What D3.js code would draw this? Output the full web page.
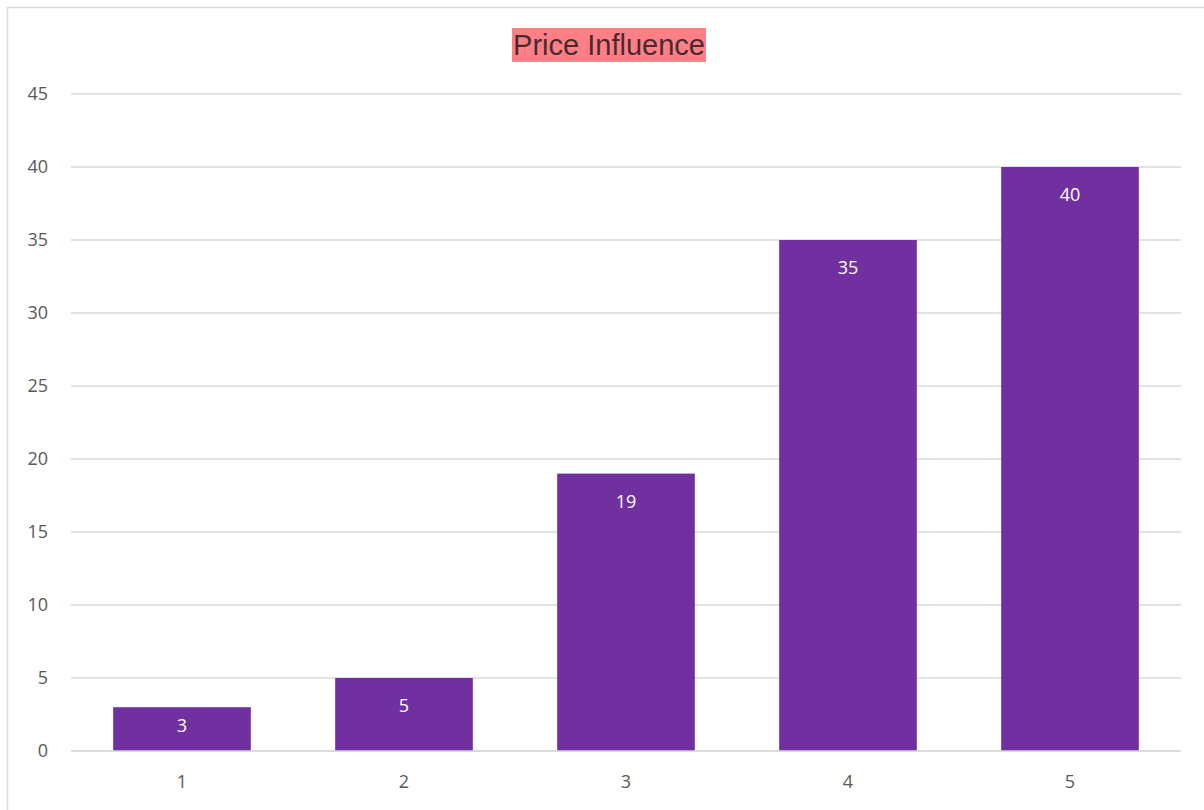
<!DOCTYPE html>
<html><head><meta charset="utf-8">
<script src="https://cdn.jsdelivr.net/npm/d3@7"></script>
<style>body{margin:0;background:#fff}svg{display:block}</style>
</head><body>
<script>
const categories = ["1","2","3","4","5"];
const values = [3,5,19,35,40];
const yTicks = [0,5,10,15,20,25,30,35,40,45];
const title = "Price Influence";

const W=1204,H=810;
const svg=d3.select("body").append("svg").attr("width",W).attr("height",H);
svg.append("rect").attr("x",7.5).attr("y",7.5).attr("width",W).attr("height",H).attr("fill","#fff").attr("stroke","#d9d9d9").attr("stroke-width",1.5);

const x=d3.scaleBand().domain(categories).range([71,1181]).paddingInner(0.38).paddingOuter(0.19);
const y=d3.scaleLinear().domain([0,45]).range([751,94]);

const g=svg.append("g");
g.selectAll("line.grid").data(yTicks).join("line").attr("class","grid")
 .attr("x1",71).attr("x2",1181).attr("y1",d=>y(d)).attr("y2",d=>y(d))
 .attr("stroke","#d9d9d9").attr("stroke-width",1.3);

const yAxis=svg.append("g").attr("transform","translate(71,0)")
 .call(d3.axisLeft(y).tickValues(yTicks).tickSize(0).tickPadding(23));
yAxis.select(".domain").remove();
yAxis.selectAll("text").attr("fill","#595959").style("font-family","'Open Sans',sans-serif").style("font-size","18px");

g.selectAll("rect.bar").data(values).join("rect").attr("class","bar")
 .attr("x",(d,i)=>x(categories[i])).attr("width",x.bandwidth())
 .attr("y",d=>y(d)).attr("height",d=>y(0)-y(d)).attr("fill","#7030A0");

g.selectAll("text.lbl").data(values).join("text").attr("class","lbl")
 .attr("x",(d,i)=>x(categories[i])+x.bandwidth()/2)
 .attr("y",d=>Math.min(y(d)+34,(y(d)+y(0))/2+3))
 .attr("text-anchor","middle").attr("fill","#fff")
 .style("font-family","'Open Sans',sans-serif").style("font-size","18px").text(d=>d);

svg.append("line").attr("x1",71).attr("x2",1181).attr("y1",y(0)).attr("y2",y(0)).attr("stroke","#d9d9d9").attr("stroke-width",1.5);

const xAxis=svg.append("g").attr("transform",`translate(0,${y(0)})`)
 .call(d3.axisBottom(x).tickSize(0).tickPadding(24));
xAxis.select(".domain").remove();
xAxis.selectAll("text").attr("fill","#595959").style("font-family","'Open Sans',sans-serif").style("font-size","18px");

svg.append("rect").attr("x",512).attr("y",28).attr("width",194).attr("height",34).attr("fill","#FF7F86");
svg.append("text").attr("x",609).attr("y",55).attr("text-anchor","middle")
 .attr("fill","#4a2a2e").style("font-family","'Liberation Sans',Arial,sans-serif").style("font-size","29px").text(title);
</script>
</body></html>
